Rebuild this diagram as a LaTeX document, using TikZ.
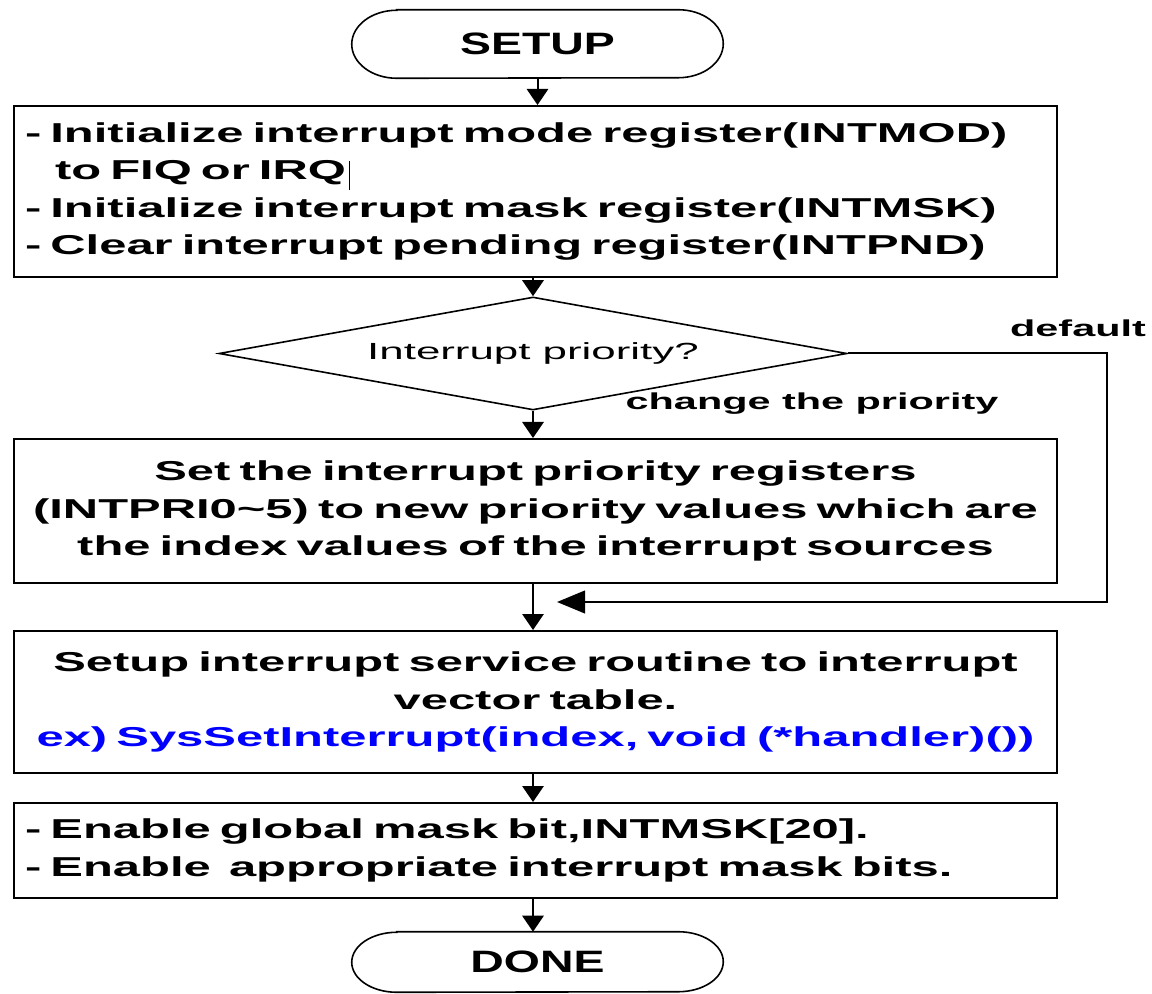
\documentclass[tikz,border=0pt]{standalone}
\usepackage{fontspec}
\setmainfont{Liberation Sans}
\newfontfamily\boxf[FakeStretch=1.79]{Liberation Sans}
\newfontfamily\labf[FakeStretch=1.8]{Liberation Sans}
\newfontfamily\qf[FakeStretch=1.88]{Liberation Sans}
\newfontfamily\termf[FakeStretch=1.5]{Liberation Sans}
\usetikzlibrary{shapes.geometric,arrows.meta,calc}
\definecolor{exblue}{RGB}{0,0,255}
\newcommand{\termoutline}[3]{%
  \draw[line width=1.2pt] ([xshift=#2]#1.north west) -- ([xshift=-#2]#1.north east)
    arc[start angle=90,end angle=-90,x radius=#2,y radius=#3]
    -- ([xshift=#2]#1.south west)
    arc[start angle=270,end angle=90,x radius=#2,y radius=#3] -- cycle;}
\begin{document}
\begin{tikzpicture}[x=0.75pt,y=-0.75pt,
  box/.style={draw, line width=1.5pt, minimum width=1043*0.75pt, inner xsep=8.25pt, inner ysep=0pt,
    text width=1021*0.75pt, font=\boxf\bfseries\fontsize{20.5}{28.1}\selectfont},
  term/.style={minimum width=371*0.75pt, inner sep=0pt, font=\termf\bfseries\fontsize{23.2}{26}\selectfont},
  lab/.style={inner sep=0pt, font=\labf\bfseries\fontsize{17.25}{20}\selectfont},
  arr/.style={-{Triangle[length=12pt,width=16pt]}, line width=1.5pt},
  arrl/.style={-{Triangle[length=21pt,width=17pt]}, line width=1.5pt}]
\useasboundingbox (0,0) rectangle (1152,994);

\node[term, minimum height=68*0.75pt] (setup) at (537.5,44) {SETUP};
\termoutline{setup}{33.75pt}{25.5pt}

\node[box, align=left, minimum height=171*0.75pt] (b1) at (535.5,191.5)
  {- Initialize interrupt mode register(INTMOD)\\
   \hspace*{22.5pt}to FIQ or IRQ\\
   - Initialize interrupt mask register(INTMSK)\\
   - Clear interrupt pending register(INTPND)};
\draw[line width=0.75pt] (349,161) -- (349,190);

\node[diamond, draw, line width=1.2pt, aspect=5.56, minimum width=628*0.75pt, minimum height=113*0.75pt,
  inner sep=0pt, font=\qf\fontsize{17.5}{20}\selectfont] (q) at (533,353.5) {Interrupt priority?};

\node[box, align=center, minimum height=144*0.75pt] (b2) at (535.5,511)
  {Set the interrupt priority registers\\
   (INTPRI0\textasciitilde5) to new priority values which are\\
   the index values of the interrupt sources};

\node[box, align=center, minimum height=142*0.75pt] (b3) at (535.5,702)
  {Setup interrupt service routine to interrupt\\
   vector table.\\
   \textcolor{exblue}{ex) SysSetInterrupt(index, void (*handler)())}};

\node[box, align=left, minimum height=95*0.75pt] (b4) at (535.5,850.5)
  {- Enable global mask bit,INTMSK[20].\\
   - Enable\ \ appropriate interrupt mask bits.};

\node[term, minimum height=60*0.75pt] (done) at (537.5,962) {DONE};
\termoutline{done}{33.75pt}{22.5pt}

\node[lab] (dflt) at (1078,328) {default};
\node[lab] (chg) at (812,404) {change the priority};

\coordinate (j) at (557,602);
\coordinate (rc) at (1107,602);

\draw[arr] (setup.south) -- (setup.south |- b1.north);
\draw[arr] (b1.south -| q.south) -- (q.north);
\draw[arr] (q.south) -- (q.south |- b2.north);
\draw[arr] (b2.south -| q.south) -- (q.south |- b3.north);
\draw[arr] (b3.south -| q.south) -- (q.south |- b4.north);
\draw[arr] (b4.south -| q.south) -- (q.south |- done.north);
\draw[arrl] (q.east) -| (rc) -- (j);
\end{tikzpicture}
\end{document}
